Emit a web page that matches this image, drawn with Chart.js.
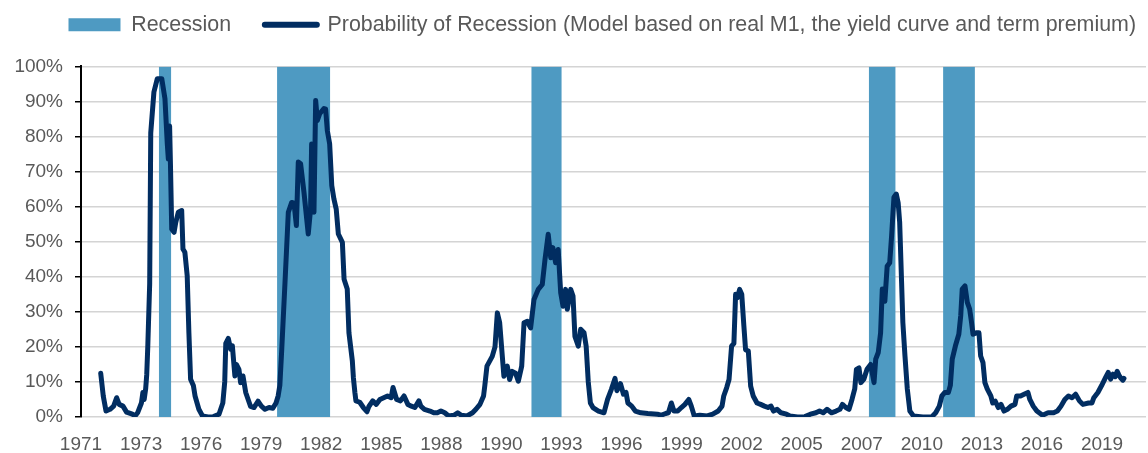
<!doctype html>
<html lang="en">
<head>
<meta charset="utf-8">
<title>Probability of Recession</title>
<style>
  html, body { margin: 0; padding: 0; background: #fff; }
  #wrap { width: 1148px; height: 453px; }
</style>
</head>
<body>
<div id="wrap"><canvas id="chart"></canvas></div>
<script src="https://cdn.jsdelivr.net/npm/chart.js"></script>
<script>
// recession periods, decimal years
const recessionStart = [1974.67, 1980.25, 1992.25, 2008.17, 2011.67];
const recessionEnd   = [1975.25, 1982.75, 1993.67, 2009.42, 2013.17];

// model probability (%)
const probYears = [
  1971.93, 1972.05, 1972.18, 1972.37, 1972.54, 1972.68, 1972.80, 1972.98, 1973.15, 1973.42,
  1973.55, 1973.67, 1973.85, 1973.92, 1973.98, 1974.05, 1974.10, 1974.15, 1974.24, 1974.29,
  1974.44, 1974.60, 1974.81, 1974.96, 1975.07, 1975.12, 1975.18, 1975.22, 1975.28, 1975.39,
  1975.47, 1975.59, 1975.75, 1975.81, 1975.90, 1976.01, 1976.09, 1976.17, 1976.30, 1976.38,
  1976.56, 1976.73, 1976.99, 1977.25, 1977.51, 1977.69, 1977.78, 1977.83, 1977.95, 1978.06,
  1978.14, 1978.26, 1978.33, 1978.45, 1978.53, 1978.64, 1978.77, 1979.00, 1979.16, 1979.35,
  1979.51, 1979.68, 1979.87, 1980.05, 1980.20, 1980.30, 1980.38, 1980.47, 1980.62, 1980.78,
  1980.94, 1981.05, 1981.16, 1981.25, 1981.36, 1981.52, 1981.72, 1981.83, 1981.88, 1981.99,
  1982.07, 1982.15, 1982.26, 1982.46, 1982.54, 1982.62, 1982.73, 1982.83, 1982.93, 1983.04,
  1983.14, 1983.33, 1983.41, 1983.56, 1983.64, 1983.80, 1983.85, 1983.92, 1983.97, 1984.15,
  1984.32, 1984.49, 1984.58, 1984.76, 1984.93, 1985.10, 1985.28, 1985.46, 1985.63, 1985.72,
  1985.89, 1986.07, 1986.24, 1986.42, 1986.59, 1986.75, 1986.94, 1987.03, 1987.20, 1987.46,
  1987.64, 1987.81, 1987.98, 1988.16, 1988.34, 1988.59, 1988.77, 1988.94, 1989.21, 1989.47,
  1989.63, 1989.82, 1989.99, 1990.05, 1990.15, 1990.40, 1990.53, 1990.64, 1990.75, 1990.95,
  1991.11, 1991.22, 1991.34, 1991.50, 1991.63, 1991.79, 1991.90, 1992.05, 1992.21, 1992.37,
  1992.57, 1992.76, 1992.89, 1993.04, 1993.16, 1993.26, 1993.39, 1993.51, 1993.63, 1993.74,
  1993.86, 1993.94, 1994.10, 1994.21, 1994.30, 1994.46, 1994.57, 1994.73, 1994.83, 1994.93,
  1995.03, 1995.15, 1995.41, 1995.67, 1995.84, 1996.02, 1996.19, 1996.28, 1996.45, 1996.59,
  1996.71, 1996.80, 1996.98, 1997.15, 1997.41, 1997.74, 1998.19, 1998.36, 1998.58, 1998.71,
  1998.85, 1998.97, 1999.15, 1999.32, 1999.49, 1999.67, 1999.79, 1999.93, 2000.19, 2000.54,
  2000.80, 2001.06, 2001.24, 2001.32, 2001.46, 2001.57, 2001.69, 2001.80, 2001.88, 2001.96,
  2002.07, 2002.17, 2002.27, 2002.35, 2002.48, 2002.59, 2002.71, 2002.89, 2003.06, 2003.24,
  2003.41, 2003.55, 2003.67, 2003.84, 2004.02, 2004.28, 2004.44, 2004.80, 2005.15, 2005.41,
  2005.67, 2005.84, 2006.01, 2006.19, 2006.40, 2006.62, 2006.80, 2006.92, 2007.08, 2007.23,
  2007.37, 2007.50, 2007.58, 2007.70, 2007.79, 2007.93, 2008.08, 2008.25, 2008.41, 2008.49,
  2008.61, 2008.72, 2008.80, 2008.92, 2009.03, 2009.15, 2009.24, 2009.35, 2009.46, 2009.55,
  2009.62, 2009.71, 2009.77, 2009.87, 2009.98, 2010.10, 2010.27, 2010.71, 2011.14, 2011.32,
  2011.49, 2011.61, 2011.75, 2011.92, 2012.01, 2012.10, 2012.25, 2012.41, 2012.50, 2012.57,
  2012.70, 2012.81, 2012.92, 2013.01, 2013.08, 2013.23, 2013.36, 2013.44, 2013.55, 2013.64,
  2013.75, 2013.92, 2014.01, 2014.13, 2014.27, 2014.40, 2014.54, 2014.70, 2014.87, 2015.06,
  2015.14, 2015.32, 2015.49, 2015.67, 2015.76, 2015.92, 2016.09, 2016.36, 2016.62, 2016.88,
  2017.06, 2017.23, 2017.41, 2017.58, 2017.75, 2017.92, 2018.10, 2018.26, 2018.53, 2018.69,
  2018.78, 2018.97, 2019.14, 2019.33, 2019.46, 2019.57, 2019.68, 2019.79, 2019.88, 2019.96,
  2020.04, 2020.15, 2020.20
];
const probValues = [
  12.5, 6, 1.7, 2.2, 3.1, 5.5, 3.6, 3.1, 1.4, 0.8,
  0.3, 1.2, 4, 7, 5, 8, 12, 20, 38, 81,
  92.7, 96.5, 96.5, 90.8, 78, 73.6, 83, 72, 53.6, 52.7,
  55.5, 58.4, 58.9, 47.9, 47, 40.3, 24, 10.8, 9, 6,
  2.2, 0.3, 0, 0.1, 0.8, 4, 10, 21, 22.4, 19.3,
  20.3, 11.7, 15, 13.6, 9.8, 11.7, 7, 3, 2.7, 4.5,
  3.1, 2.2, 2.7, 2.5, 4, 6, 9, 19.3, 38, 58.4,
  61.2, 61, 54.6, 72.7, 72.2, 64, 52.2, 59.3, 77.9, 58.4,
  90.3, 84.6, 86.5, 88, 87.8, 81.7, 77.9, 66, 62.2, 59.3,
  52.2, 49.8, 39.3, 36.5, 24, 16, 11.2, 7, 4.6, 4.2,
  2.7, 1.5, 3, 4.6, 3.6, 5, 5.5, 6, 5.5, 8.4,
  5, 4.6, 6, 3.6, 3.1, 2.7, 4.6, 3.1, 2.2, 1.7,
  1.2, 1.2, 1.7, 1.2, 0.3, 0.5, 1.2, 0.5, 0.3, 1.2,
  2.2, 3.6, 6, 9, 14.5, 17.3, 20, 29.7, 26.9, 11.6,
  14.5, 10.7, 13, 12.5, 10.2, 14.5, 26.9, 27.3, 25.4, 33.5,
  36.4, 37.8, 45, 52.1, 45.4, 48.3, 44, 47.8, 35.4, 31.6,
  36.4, 30.7, 36.4, 34.5, 23, 20.2, 25, 24, 20.2, 10,
  4, 2.7, 1.7, 1.2, 5, 7.9, 11, 7.5, 9.5, 6.5,
  7, 4, 3.1, 1.7, 1.2, 1, 0.8, 0.5, 1, 1.2,
  4, 1.7, 1.7, 2.7, 3.6, 5, 3.1, 0.3, 0.5, 0.3,
  0.8, 1.7, 3.1, 6, 8.4, 10.7, 20.2, 21, 35, 34,
  36.4, 35, 26, 19.2, 18.8, 8.8, 6, 4, 3.6, 3.1,
  2.7, 3.1, 1.7, 2.2, 1.2, 0.8, 0.3, 0, 0.1, 0.8,
  1.2, 1.7, 1.2, 2.2, 1.2, 1.7, 2.2, 3.6, 2.7, 2.2,
  5, 8, 13.6, 14, 9.8, 10.8, 13.6, 15, 9.8, 16.5,
  18.4, 24, 36.5, 33, 43, 44, 51.7, 62.7, 63.6, 61,
  55.5, 38.4, 27, 17.4, 8, 1.7, 0.3, 0, 0.1, 1.2,
  3.1, 6, 7, 7, 9, 16.5, 20.3, 23.6, 28.9, 36.5,
  37.4, 32.7, 30.8, 27, 23.6, 24, 24, 17.4, 15.5, 9.8,
  8, 6, 4, 4.5, 2.7, 3.6, 1.7, 2.2, 3.1, 3.6,
  6, 6, 6.5, 7, 5, 3.1, 1.7, 0.5, 1.2, 1.2,
  1.7, 3.1, 5, 6, 5.5, 6.5, 4.6, 3.6, 4, 4,
  5.5, 7, 8.9, 11.2, 12.7, 10.8, 12.2, 11.5, 13, 12,
  11.2, 10.5, 11
];

// x axis labels sit every 34 months
const tickMonths = ['1971-01', '1973-11', '1976-09', '1979-07', '1982-05', '1985-03',
  '1988-01', '1990-11', '1993-09', '1996-07', '1999-05', '2002-03', '2005-01',
  '2007-11', '2010-09', '2013-07', '2016-05', '2019-03'];
const tickLabels = tickMonths.map(m => m.slice(0, 4));
const tickValues = tickMonths.map(m => +m.slice(0, 4) + (+m.slice(5) - 1) / 12);

const recColor = '#4E9AC2';
const lineColor = '#012D61';
const textColor = '#595959';
const fontFamily = "'Liberation Sans', Arial, sans-serif";

const recessionPoints = [];
recessionStart.forEach((s, i) => {
  const e = recessionEnd[i];
  recessionPoints.push({x: s, y: 0}, {x: s, y: 100}, {x: e, y: 100}, {x: e, y: 0});
});
const probPoints = probYears.map((x, i) => ({x: x, y: probValues[i]}));

const legendGap = {
  id: 'legendGap',
  beforeInit(chart) {
    const fit = chart.legend.fit;
    chart.legend.fit = function () {
      fit.bind(chart.legend)();
      this.height += 21;
    };
  }
};

new Chart(document.getElementById('chart'), {
  type: 'line',
  data: {
    datasets: [{
      label: 'Probability of Recession (Model based on real M1, the yield curve and term premium)',
      data: probPoints,
      borderColor: lineColor,
      borderWidth: 5,
      borderJoinStyle: 'round',
      borderCapStyle: 'round',
      pointRadius: 0,
      tension: 0,
      fill: false
    }, {
      label: 'Recession',
      data: recessionPoints,
      borderColor: 'rgba(0,0,0,0)',
      borderWidth: 0,
      backgroundColor: recColor,
      pointRadius: 0,
      fill: 'origin'
    }]
  },
  options: {
    responsive: true,
    maintainAspectRatio: false,
    animation: false,
    layout: { padding: { top: 4, right: 2, left: 0, bottom: 0 } },
    plugins: {
      tooltip: { enabled: false },
      legend: {
        position: 'top',
        align: 'end',
        labels: {
          usePointStyle: true,
          pointStyleWidth: 52,
          boxHeight: 13,
          padding: 10,
          color: textColor,
          font: { family: fontFamily, size: 21.4 },
          generateLabels: () => [
            { text: 'Recession    ', fillStyle: recColor, strokeStyle: recColor, lineWidth: 0,
              pointStyle: 'rect', fontColor: textColor, hidden: false, datasetIndex: 1 },
            { text: 'Probability of Recession (Model based on real M1, the yield curve and term premium)',
              fillStyle: lineColor, strokeStyle: lineColor, lineWidth: 6, lineCap: 'round',
              pointStyle: 'line', fontColor: textColor, hidden: false, datasetIndex: 0 }
          ]
        }
      }
    },
    scales: {
      x: {
        type: 'linear',
        min: 1971,
        max: 2021.24,
        afterBuildTicks: scale => { scale.ticks = tickValues.map(v => ({value: v})); },
        afterFit: scale => { scale.height = 36; },
        grid: { display: false },
        border: { display: false },
        ticks: {
          autoSkip: false,
          maxRotation: 0,
          padding: 8,
          color: textColor,
          font: { family: fontFamily, size: 19 },
          callback: (v, i) => tickLabels[i]
        }
      },
      y: {
        min: 0,
        max: 100,
        afterFit: scale => { scale.width = 81; },
        grid: { color: '#D4D4D4', lineWidth: 1.5, tickColor: '#000', tickLength: 6 },
        border: { color: '#000', width: 2 },
        ticks: {
          stepSize: 10,
          padding: 12,
          color: textColor,
          font: { family: fontFamily, size: 19 },
          callback: v => v + '%'
        }
      }
    }
  },
  plugins: [legendGap]
});
</script>
</body>
</html>
